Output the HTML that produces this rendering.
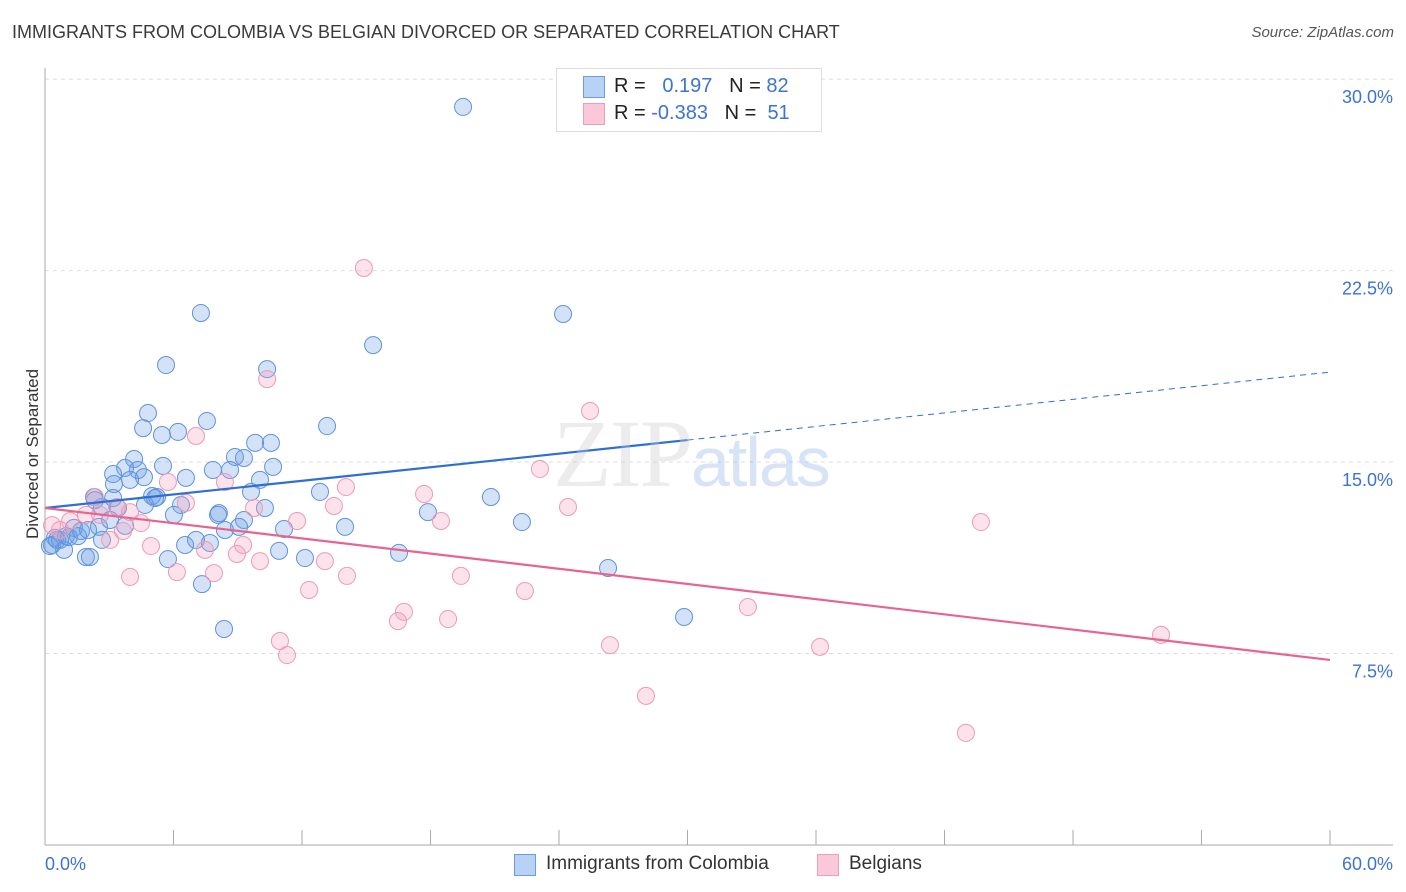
<!DOCTYPE html>
<html><head><meta charset="utf-8"><style>
body{margin:0;background:#fff;font-family:"Liberation Sans",sans-serif;}
#wrap{position:relative;width:1406px;height:892px;overflow:hidden;}
.t{position:absolute;white-space:nowrap;}
</style></head><body>
<div id="wrap">
<div class="t" style="left:12px;top:22px;font-size:18px;color:#3a3a3a;">IMMIGRANTS FROM COLOMBIA VS BELGIAN DIVORCED OR SEPARATED CORRELATION CHART</div>
<div class="t" style="right:12px;top:24px;font-size:15px;color:#555;font-style:italic;">Source: ZipAtlas.com</div>
<div class="t" style="left:-52px;top:444px;font-size:17px;color:#333;transform:rotate(-90deg);">Divorced or Separated</div>
<svg id="plot" width="1406" height="892" style="position:absolute;left:0;top:0"></svg>
<div style="position:absolute;left:556px;top:68px;width:264px;height:62px;border:1px solid #ddd;background:#fff;"></div>
<div style="position:absolute;left:583px;top:76px;width:20px;height:20px;background:#b8d2f5;border:1px solid #6d9be0;"></div>
<div style="position:absolute;left:583px;top:103px;width:20px;height:20px;background:#fac8d8;border:1px solid #eba0b8;"></div>
<div class="t" style="left:614px;top:75px;font-size:20px;color:#222;">R = &nbsp;&nbsp;<span style="color:#3b73d6">0.197</span>&nbsp;&nbsp;&nbsp;N = <span style="color:#3b73d6">82</span></div>
<div class="t" style="left:614px;top:102px;font-size:20px;color:#222;">R = <span style="color:#3b73d6">-0.383</span>&nbsp;&nbsp;&nbsp;N = &nbsp;<span style="color:#3b73d6">51</span></div>
<div class="t" style="left:553px;top:398px;font-size:96px;color:rgba(200,200,200,0.35);font-family:'Liberation Serif',serif;letter-spacing:-2px;">ZIP<span style="font-family:'Liberation Sans',sans-serif;color:rgba(140,175,230,0.35);font-size:70px;">atlas</span></div>
<div style="position:absolute;left:514px;top:854px;width:20px;height:20px;background:#b8d2f5;border:1px solid #6d9be0;"></div>
<div class="t" style="left:546px;top:853px;font-size:19px;color:#333;">Immigrants from Colombia</div>
<div style="position:absolute;left:817px;top:854px;width:20px;height:20px;background:#fac8d8;border:1px solid #eba0b8;"></div>
<div class="t" style="left:849px;top:853px;font-size:19px;color:#333;">Belgians</div>
</div>
<script>
const xTickLabels=["0.0%","60.0%"];
const yTicks=[7.5,15,22.5,30];
const yTickLabels=["7.5%","15.0%","22.5%","30.0%"];
const bluePx=[[463,107],[201,313],[563,314],[373,345],[166,365],[267,369],[148,413],[207,421],[327,426],[143,428],[178,432],[162,435],[255,443],[271,443],[235,457],[244,458],[134,459],[163,466],[273,467],[213,470],[230,470],[125,468],[138,470],[113,474],[186,478],[144,477],[130,480],[114,484],[260,480],[320,492],[251,492],[152,496],[157,497],[491,497],[94,497],[181,505],[102,507],[118,508],[265,508],[219,513],[428,512],[174,515],[244,520],[218,515],[345,527],[522,522],[239,527],[284,529],[125,526],[99,527],[74,528],[81,531],[66,536],[55,538],[60,540],[52,545],[64,550],[102,540],[185,545],[196,540],[210,543],[225,530],[399,553],[279,551],[305,558],[168,559],[86,557],[90,557],[608,568],[202,584],[684,617],[224,629],[57,540],[69,537],[50,546],[113,498],[95,500],[155,498],[145,505],[110,520],[78,536],[88,530]];
const pinkPx=[[364,268],[267,379],[590,411],[196,436],[540,469],[346,487],[424,494],[168,482],[95,497],[186,503],[225,482],[334,506],[568,507],[441,521],[297,521],[981,522],[117,507],[141,523],[123,531],[70,521],[86,515],[254,508],[151,546],[243,545],[205,550],[237,554],[260,561],[325,561],[130,577],[177,572],[214,573],[347,576],[461,576],[309,590],[525,591],[404,612],[398,621],[448,619],[748,607],[1161,635],[280,641],[287,655],[610,645],[820,647],[646,696],[966,733],[52,525],[60,530],[100,515],[130,512],[110,540]];
// data values (percent)
const blueX=bluePx.map(p=>+((p[0]-45)*60/1285).toFixed(2));
const blueY=bluePx.map(p=>+((845-p[1])/25.53).toFixed(2));
const pinkX=pinkPx.map(p=>+((p[0]-45)*60/1285).toFixed(2));
const pinkY=pinkPx.map(p=>+((845-p[1])/25.53).toFixed(2));
const blueTrend=[13.2,0.0887]; // intercept, slope
const pinkTrend=[13.2,-0.0992];
const X0=45,X1=1330,Y0=845,YS=25.53;
const sx=v=>X0+(X1-X0)*v/60, sy=v=>Y0-v*YS;
const svg=document.getElementById('plot');const NS='http://www.w3.org/2000/svg';
function mk(tag,a){const e=document.createElementNS(NS,tag);for(const k in a)e.setAttribute(k,a[k]);svg.appendChild(e);return e;}
yTicks.forEach((v,i)=>{
 const g=mk('line',{x1:45,x2:1393,y1:sy(v),y2:sy(v),stroke:'#ddd','stroke-dasharray':'4,4'});
 
 
 const t=mk('text',{x:1393,y:sy(v)+24,'text-anchor':'end','font-size':18,fill:'#3b73d6','font-family':'Liberation Sans'});
 t.textContent=yTickLabels[i];
 
 
});
const ax=mk('line',{x1:45,x2:1393,y1:845,y2:845,stroke:'#aaa'});


const ay=mk('line',{x1:45,x2:45,y1:68,y2:845,stroke:'#aaa'});


for(let i=0;i<=10;i++){const tk=mk('line',{x1:sx(i*6),x2:sx(i*6),y1:830,y2:845,stroke:'#aaa'});
 
 }
const xl0=mk('text',{x:45,y:870,'font-size':18,fill:'#3b73d6','font-family':'Liberation Sans'});xl0.textContent=xTickLabels[0];


const xl1=mk('text',{x:1393,y:870,'text-anchor':'end','font-size':18,fill:'#3b73d6','font-family':'Liberation Sans'});xl1.textContent=xTickLabels[1];


blueX.forEach((x,i)=>{const c=mk('circle',{cx:sx(x),cy:sy(blueY[i]),r:8.5,fill:'rgba(110,160,230,0.3)',stroke:'#5f93dc','stroke-width':1});
 
 });
pinkX.forEach((x,i)=>{const c=mk('circle',{cx:sx(x),cy:sy(pinkY[i]),r:8.5,fill:'rgba(245,160,190,0.3)',stroke:'#eb9bb6','stroke-width':1});
 
 });
const bl=mk('line',{x1:sx(0),y1:sy(blueTrend[0]),x2:sx(30),y2:sy(blueTrend[0]+30*blueTrend[1]),stroke:'#2e6fd4','stroke-width':2.2});


const bd=mk('line',{x1:sx(30),y1:sy(blueTrend[0]+30*blueTrend[1]),x2:sx(60),y2:sy(blueTrend[0]+60*blueTrend[1]),stroke:'#2e6fd4','stroke-width':1,'stroke-dasharray':'6,5'});


const pl=mk('line',{x1:sx(0),y1:sy(pinkTrend[0]),x2:sx(60),y2:sy(pinkTrend[0]+60*pinkTrend[1]),stroke:'#e8648f','stroke-width':2.2});


</script>
</body></html>
